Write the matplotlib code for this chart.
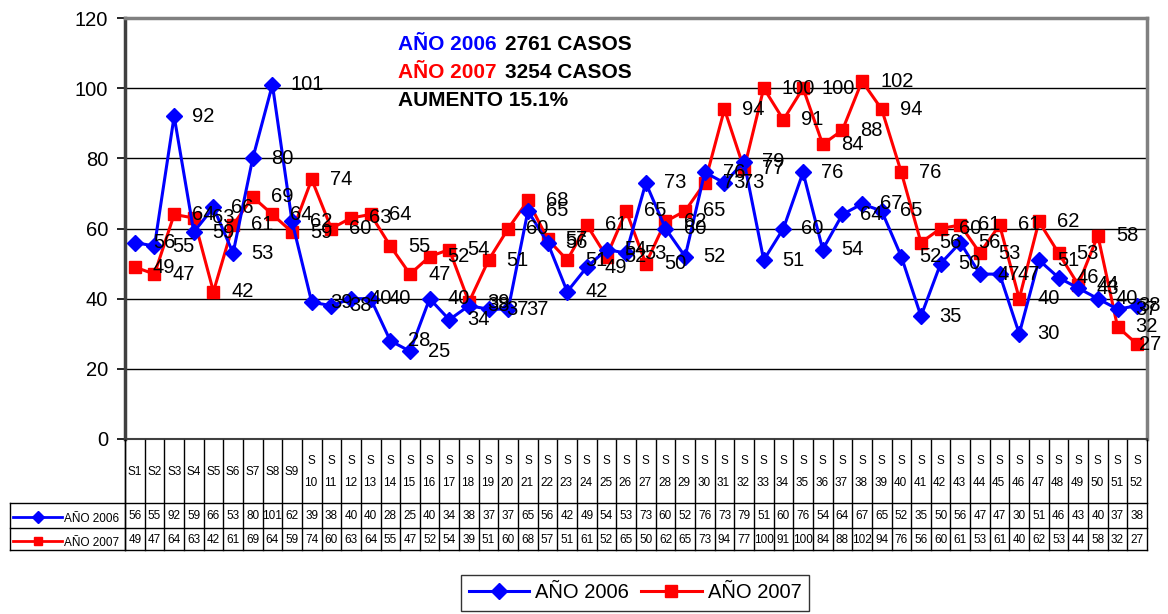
import matplotlib
matplotlib.use("Agg")
import matplotlib.pyplot as plt
import matplotlib.transforms as mtransforms
from matplotlib.lines import Line2D

plt.rcParams['font.family'] = ['Liberation Sans', 'DejaVu Sans']

weeks = [f"S{i}" for i in range(1, 53)]
casos_2006 = [56, 55, 92, 59, 66, 53, 80, 101, 62, 39, 38, 40, 40, 28, 25, 40, 34, 38, 37, 37,
              65, 56, 42, 49, 54, 53, 73, 60, 52, 76, 73, 79, 51, 60, 76, 54, 64, 67, 65, 52,
              35, 50, 56, 47, 47, 30, 51, 46, 43, 40, 37, 38]
casos_2007 = [49, 47, 64, 63, 42, 61, 69, 64, 59, 74, 60, 63, 64, 55, 47, 52, 54, 39, 51, 60,
              68, 57, 51, 61, 52, 65, 50, 62, 65, 73, 94, 77, 100, 91, 100, 84, 88, 102, 94, 76,
              56, 60, 61, 53, 61, 40, 62, 53, 44, 58, 32, 27]
series_names = ["AÑO 2006", "AÑO 2007"]
yticks = [0, 20, 40, 60, 80, 100, 120]

W, H = 1168, 614
fig = plt.figure(figsize=(W / 100, H / 100), dpi=100)

def fx(px):
    return px / W

def fy(py):
    return 1 - py / H

L, R, T, B = 125, 1147, 18, 439
ax = fig.add_axes([fx(L), fy(B), fx(R - L), (B - T) / H])

n = len(weeks)
x = list(range(n))
blue = '#0000FF'
red = '#FF0000'

ax.plot(x, casos_2006, color=blue, lw=2.2, marker='D', ms=8.5, mec=blue, mfc=blue, zorder=4)
ax.plot(x, casos_2007, color=red, lw=2.2, marker='s', ms=8.5, mec=red, mfc=red, zorder=3)

for series in (casos_2006, casos_2007):
    for xi, v in zip(x, series):
        off = 13 if xi < n - 1 else 1
        ax.annotate(str(v), (xi, v), xytext=(off, 0), textcoords='offset points',
                    ha='left', va='center', fontsize=14.5, color='black',
                    annotation_clip=False, zorder=6)

ax.set_xlim(-0.5, n - 0.5)
ax.set_ylim(0, 120)
ax.set_yticks(yticks)
ax.set_yticklabels([str(t) for t in yticks], fontsize=14.5)
ax.tick_params(axis='y', length=6, width=1.2, direction='out', pad=6)
ax.set_xticks([])
for yt in yticks[1:-1]:
    ax.axhline(yt, color='black', lw=1, zorder=1)

for s in ['top', 'right']:
    ax.spines[s].set_color('#808080')
    ax.spines[s].set_linewidth(2.5)
ax.spines['left'].set_color('#404040')
ax.spines['left'].set_linewidth(2.5)
ax.spines['bottom'].set_color('#404040')
ax.spines['bottom'].set_linewidth(1.5)

# ---- data table below the axes ----
tr = mtransforms.blended_transform_factory(ax.transData, fig.transFigure)
y_head_top, y_head_bot, y_row_mid, y_row_bot = 440, 503, 528, 550

for i in range(n + 1):
    xb = i - 0.5
    fig.add_artist(Line2D([xb, xb], [fy(y_head_top), fy(y_row_bot)], transform=tr,
                          color='black', lw=1))
for yy in [y_head_bot, y_row_mid, y_row_bot]:
    fig.add_artist(Line2D([fx(10), fx(R)], [fy(yy), fy(yy)], transform=fig.transFigure,
                          color='black', lw=1))
fig.add_artist(Line2D([fx(10), fx(10)], [fy(y_head_bot), fy(y_row_bot)],
                      transform=fig.transFigure, color='black', lw=1))
fig.add_artist(Line2D([fx(L), fx(L)], [fy(y_head_top), fy(y_row_bot)],
                      transform=fig.transFigure, color='black', lw=1))

for i, w in enumerate(weeks):
    num = w[1:]
    if len(num) == 1:
        fig.text(i, fy(472), w, transform=tr, ha='center', va='center', fontsize=8.5)
    else:
        fig.text(i, fy(461), "S", transform=tr, ha='center', va='center', fontsize=8.5)
        fig.text(i - 0.38, fy(483), num, transform=tr, ha='left', va='center', fontsize=8.5)
    fig.text(i, fy(516), str(casos_2006[i]), transform=tr, ha='center', va='center', fontsize=8.5)
    fig.text(i, fy(540), str(casos_2007[i]), transform=tr, ha='center', va='center', fontsize=8.5)

for (yy, col, mk, name) in [(517, blue, 'D', series_names[0]), (541, red, 's', series_names[1])]:
    fig.add_artist(Line2D([fx(13), fx(62)], [fy(yy), fy(yy)], transform=fig.transFigure,
                          color=col, lw=2))
    fig.add_artist(Line2D([fx(38)], [fy(yy)], transform=fig.transFigure, color=col,
                          marker=mk, ms=6, mec=col, mfc=col))
    fig.text(fx(64), fy(yy + 2), name, ha='left', va='center', fontsize=8.5)

# ---- annotation text ----
fs_note = 15
fig.text(fx(398), fy(44), "AÑO 2006", color=blue, fontsize=fs_note, fontweight='bold', va='center')
fig.text(fx(505), fy(44), "2761 CASOS", color='black', fontsize=fs_note, fontweight='bold', va='center')
fig.text(fx(398), fy(72), "AÑO 2007", color=red, fontsize=fs_note, fontweight='bold', va='center')
fig.text(fx(505), fy(72), "3254 CASOS", color='black', fontsize=fs_note, fontweight='bold', va='center')
fig.text(fx(398), fy(101), "AUMENTO 15.1%", color='black', fontsize=fs_note, fontweight='bold', va='center')

# ---- legend ----
handles = [Line2D([], [], color=blue, lw=2.2, marker='D', ms=8.5),
           Line2D([], [], color=red, lw=2.2, marker='s', ms=8.5)]
leg = fig.legend(handles, series_names, loc='center', bbox_to_anchor=(fx(635), fy(593)),
                 ncol=2, fontsize=14.5, frameon=True, fancybox=False, edgecolor='black',
                 handlelength=3, columnspacing=0.6, handletextpad=0.3, borderpad=0.4)
leg.get_frame().set_linewidth(1)

fig.savefig("out.png", dpi=100)
